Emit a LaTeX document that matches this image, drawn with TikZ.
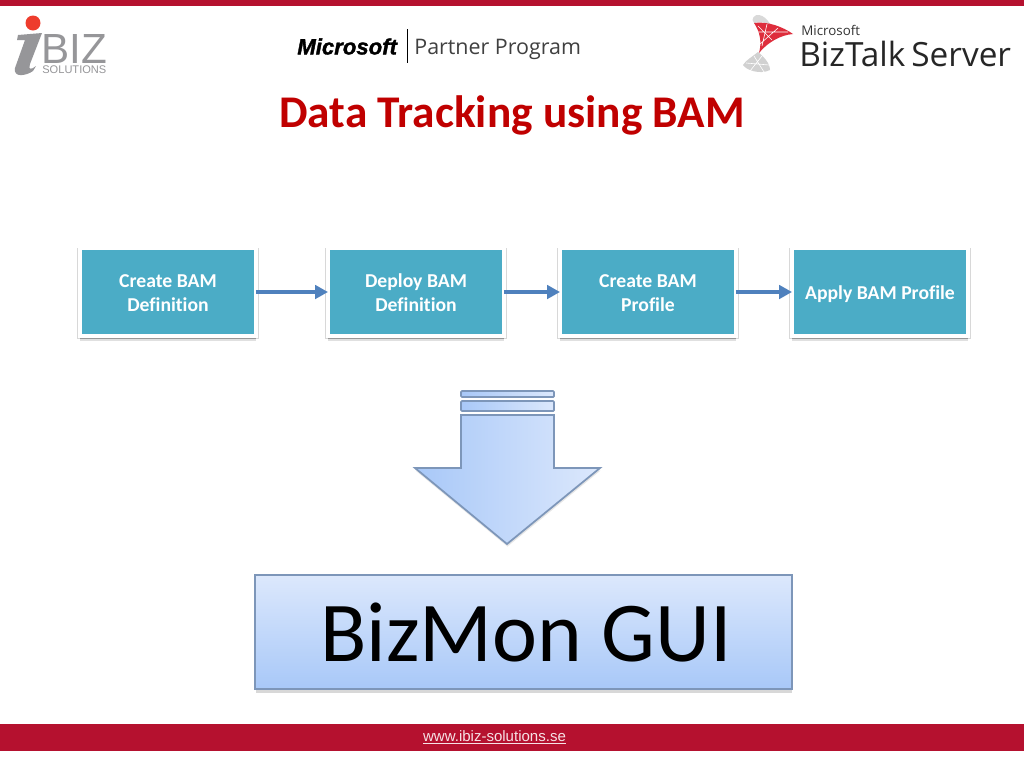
\documentclass[tikz,border=0pt]{standalone}
\usepackage{fontspec}
\setmainfont[Ligatures=NoCommon]{Carlito}
\newfontfamily\arialfont{Liberation Sans}
\newfontfamily\msfont[BoldItalicFeatures={FakeBold=1.6}]{Liberation Sans}
\newfontfamily\logofont{Open Sans}
\usetikzlibrary{shapes,arrows,arrows.meta,shadows}
\definecolor{ibizred}{RGB}{181, 17, 47}
\definecolor{titlered}{RGB}{192, 0, 0}
\definecolor{cardteal}{RGB}{75, 172, 198}
\definecolor{linkblue}{RGB}{79, 129, 189}
\definecolor{bluedark}{RGB}{168, 200, 248}
\definecolor{bluelight}{RGB}{220, 232, 252}
\definecolor{blueedge}{RGB}{125, 150, 185}
\definecolor{logogray}{RGB}{150, 150, 153}
\definecolor{logored}{RGB}{222, 45, 60}

\begin{document}
\begin{tikzpicture}[x=0.02cm,y=-0.02cm]

\tikzstyle{teal_block} = [draw=white, line width=0.08cm, fill=cardteal, text=white,
minimum width=3.52cm, minimum height=1.76cm, inner sep=0, align=center,
font=\fontsize{11.2}{13.6}\selectfont\bfseries,
drop shadow={shadow scale=1.035, shadow xshift=0cm, shadow yshift=-0.02cm, fill=black!25, opacity=0.6},
drop shadow={shadow xshift=0cm, shadow yshift=-0.1cm, fill=black!20, opacity=0.6},
drop shadow={shadow xshift=0cm, shadow yshift=-0.07cm, fill=black!50, opacity=0.7}]
\tikzstyle{link} = [-{Triangle[length=0.26cm,width=0.27cm]}, line width=0.075cm, draw=linkblue, shorten <=-0.04cm, shorten >=-0.04cm]
\tikzstyle{blue_shape} = [draw=blueedge, line width=0.035cm, left color=bluedark, right color=bluelight]
\tikzstyle{gui_block} = [draw=blueedge, line width=0.03cm, top color=bluelight, bottom color=bluedark,
minimum width=10.74cm, minimum height=2.28cm, inner sep=0, font=\fontsize{48.5}{50}\selectfont,
drop shadow={shadow xshift=0.01cm, shadow yshift=-0.07cm, fill=black!30, opacity=0.5}]

\useasboundingbox (0,0) rectangle (1024,768);
\fill[white] (0,0) rectangle (1024,768);

% bars
\fill[ibizred] (0,0) rectangle (1024,6);
\fill[ibizred] (0,724) rectangle (1024,751);
\node [text=white!88!ibizred, font=\arialfont\fontsize{8.55}{10}\selectfont] (site) at (494.5,737.5) {\underline{www.ibiz-solutions.se}};

% iBIZ logo
\fill[logogray] (18,35) -- (42,33) -- (30,64) .. controls (28,70) and (31,70) .. (36,66) -- (33,71) .. controls (26,76) and (13,78) .. (15,68) -- (25,40) -- (17,40) -- cycle;
\fill[color={rgb,255:red,238;green,60;blue,45}] (33,23) circle (7.5);
\node [anchor=west, inner sep=0, text=logogray, font=\arialfont\fontsize{24}{24}\selectfont] (biz) at (41,49) {BIZ};
\node [anchor=west, inner sep=0, text=logogray, font=\arialfont\fontsize{6.3}{7}\selectfont] (solutions) at (42,70) {SOLUTIONS};

% partner logo
\node [anchor=west, inner sep=0, font=\msfont\fontsize{12.6}{14}\selectfont\bfseries\itshape] (ms) at (297,46.5) {Microsoft};
\draw[line width=0.02cm] (407,29) -- (407,63);
\node [anchor=west, inner sep=0, text=black!75, font=\logofont\fontsize{12.2}{14}\selectfont] (partner) at (414,49) {Partner Program};

% biztalk logo
\fill[black!15] (754,23) .. controls (750,19) and (755,14) .. (759,15) .. controls (764,16) and (767,19) .. (770,24) .. controls (764,22) and (759,22) .. (754,23) -- cycle;
\fill[logored] (754,23) .. controls (768,21) and (783,27) .. (793,34) .. controls (780,35) and (767,43) .. (759,53) .. controls (762,42) and (760,32) .. (754,23) -- cycle;
\draw[white, line width=0.012cm] (758,26) -- (772,40) (767,24) -- (762,46) (778,28) -- (760,44) (757,32) -- (788,32);
\fill[black!18] (758,52) .. controls (752,57) and (746,60) .. (743,65) .. controls (746,70) and (760,75) .. (770,70) .. controls (770,63) and (763,56) .. (758,52) -- cycle;
\draw[white, line width=0.012cm] (754,56) -- (764,72) (762,56) -- (750,71) (746,63) -- (769,65);
\node [anchor=west, inner sep=0, text=black!80, font=\logofont\fontsize{7.6}{8}\selectfont] (msoft) at (801,30) {Microsoft};
\node [anchor=west, inner sep=0, text=black!85, font=\logofont\fontsize{19}{20}\selectfont] (biztalk) at (799,53.5) {BizTalk\hspace{0.12cm}Server};

% title
\node [text=titlered, font=\fontsize{25.8}{28}\selectfont\bfseries] (title) at (512,115) {Data Tracking using BAM};

% steps
\node [teal_block] (create_def) at (168,292) {\rule{0pt}{8.8pt}Create BAM\\Definition};
\node [teal_block] (deploy_def) at (416,292) {\rule{0pt}{8.8pt}Deploy BAM\\Definition};
\node [teal_block] (create_prof) at (648,292) {\rule{0pt}{8.8pt}Create BAM\\Profile};
\node [teal_block] (apply_prof) at (880,292) {\rule{0pt}{10pt}Apply BAM Profile};

\draw[link] (create_def) -- (deploy_def);
\draw[link] (deploy_def) -- (create_prof);
\draw[link] (create_prof) -- (apply_prof);

% big arrow
\draw[blue_shape, rounded corners=0.02cm] (461,391) rectangle (554,397);
\draw[blue_shape, rounded corners=0.02cm] (461,401) rectangle (554,411);
\draw[blue_shape, drop shadow={shadow xshift=0.01cm, shadow yshift=-0.05cm, fill=black!25, opacity=0.4}]
(461,415) -- (554,415) -- (554,468) -- (600,468) -- (507,544) -- (415,468) -- (461,468) -- cycle;

\node [gui_block] (gui) at (523.5,632) {\hspace{0.1cm}BizMon GUI};

\end{tikzpicture}
\end{document}
